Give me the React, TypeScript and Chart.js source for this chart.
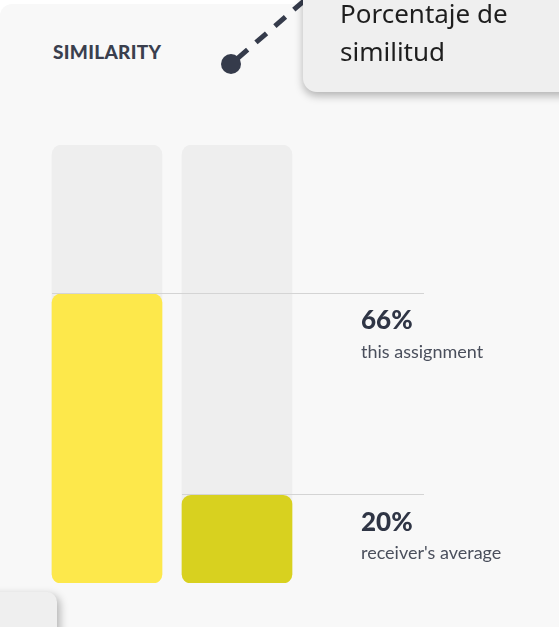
import React, { useEffect, useRef } from "react";
import { Chart, registerables } from "chart.js";

Chart.register(...registerables);

const categories = ["this assignment", "receiver's average"];
const values = [66, 20];
const maxValue = 100;
const descriptions = ["this assignment", "receiver's average"];
const barColors = ["#FDE84B", "#D8D11F"];
const trackColor = "#EEEEEE";
const title = "SIMILARITY";
const tooltipLines = ["Porcentaje de", "similitud"];

const sideLabels = {
  id: "sideLabels",
  afterDatasetsDraw(chart: any) {
    const ctx = chart.ctx;
    const meta = chart.getDatasetMeta(0);
    const yScale = chart.scales.y;
    const right = chart.chartArea.right;
    meta.data.forEach((bar: any, i: number) => {
      const top = yScale.getPixelForValue(values[i]);
      const left = bar.x - bar.width / 2;
      const ly = Math.round(top) - 0.5;
      ctx.save();
      ctx.strokeStyle = "#D4D4D4";
      ctx.lineWidth = 1;
      ctx.beginPath();
      ctx.moveTo(left, ly);
      ctx.lineTo(right + 122, ly);
      ctx.stroke();
      ctx.textAlign = "left";
      ctx.textBaseline = "middle";
      ctx.fillStyle = "#2F3545";
      ctx.font = "900 26px Lato";
      ctx.fillText(`${values[i]}%`, right + 59, top + 27);
      ctx.fillStyle = "#4A4F5C";
      ctx.font = "18px Lato";
      ctx.fillText(descriptions[i], right + 59, top + 58);
      ctx.restore();
    });
  },
};

function SimilarityChart() {
  const ref = useRef<HTMLCanvasElement>(null);
  useEffect(() => {
    if (!ref.current) return;
    const chart = new Chart(ref.current, {
      type: "bar",
      data: {
        labels: categories,
        datasets: [
          {
            data: values,
            backgroundColor: barColors,
            borderRadius: 9,
            borderSkipped: false,
            grouped: false,
            barThickness: 110,
          } as any,
          {
            data: categories.map(() => maxValue),
            backgroundColor: trackColor,
            borderRadius: 10,
            borderSkipped: false,
            grouped: false,
            barThickness: 110,
          } as any,
        ],
      },
      options: {
        responsive: false,
        animation: false,
        devicePixelRatio: 1,
        layout: { padding: { left: 42, right: 257, top: 145, bottom: 44 } },
        plugins: { legend: { display: false }, tooltip: { enabled: false }, title: { display: false } },
        scales: {
          x: { display: false, offset: true },
          y: { display: false, min: 0, max: maxValue },
        },
        events: [],
      },
      plugins: [sideLabels],
    });
    return () => chart.destroy();
  }, []);
  return (
    <canvas
      ref={ref}
      width={559}
      height={627}
      style={{ position: "absolute", left: 0, top: 0, width: 559, height: 627 }}
    />
  );
}

export default function App() {
  return (
    <div
      style={{
        position: "fixed",
        left: 0,
        top: 0,
        width: 559,
        height: 627,
        overflow: "hidden",
        background: "#FFFFFF",
      }}
    >
      <div
        style={{
          position: "absolute",
          left: 0,
          top: 4,
          width: 640,
          height: 700,
          background: "#F8F8F8",
          borderRadius: 12,
        }}
      />
      <div
        style={{
          position: "absolute",
          left: 53,
          top: 42,
          font: "900 19px Lato",
          letterSpacing: "0.3px",
          color: "#3A3F4E",
          lineHeight: "20px",
        }}
      >
        {title}
      </div>
      <SimilarityChart />
      <svg
        width={559}
        height={627}
        style={{ position: "absolute", left: 0, top: 0 }}
      >
        <line
          x1={231}
          y1={64}
          x2={312}
          y2={-6}
          stroke="#353B4B"
          strokeWidth={5}
          strokeDasharray="14 11"
          strokeDashoffset={-8}
        />
        <circle cx={231} cy={64} r={10} fill="#353B4B" />
      </svg>
      <div
        style={{
          position: "absolute",
          left: 303,
          top: -30,
          width: 300,
          height: 122,
          background: "#EFEFEF",
          borderRadius: 14,
          boxShadow: "0 4px 8px rgba(0,0,0,0.28)",
        }}
      >
        <div
          style={{
            position: "absolute",
            left: 37,
            top: 24,
            font: "26px 'Noto Sans'",
            lineHeight: "38px",
            color: "#1E1E1E",
          }}
        >
          {tooltipLines.map((t) => (
            <div key={t}>{t}</div>
          ))}
        </div>
      </div>
      <div
        style={{
          position: "absolute",
          left: -20,
          top: 592,
          width: 77,
          height: 80,
          background: "#EFEFEF",
          borderRadius: 10,
          boxShadow: "3px 3px 8px rgba(0,0,0,0.28)",
        }}
      />
    </div>
  );
}
